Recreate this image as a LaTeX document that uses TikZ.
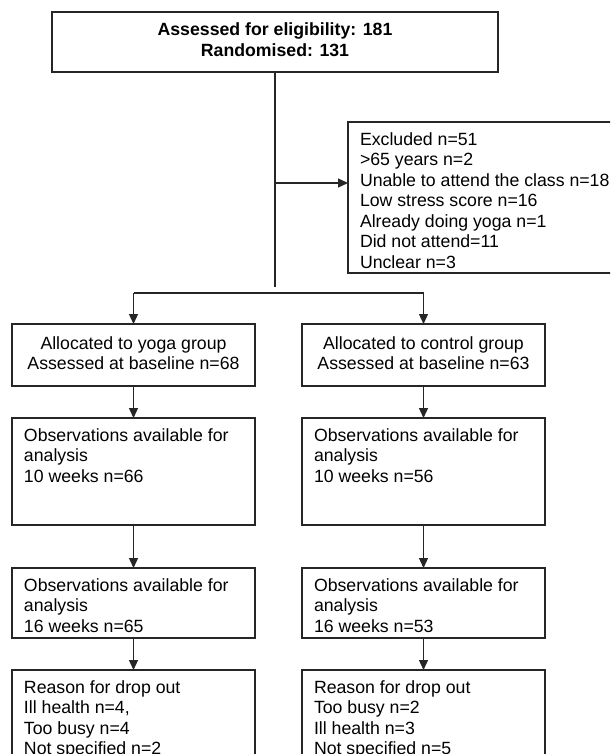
\documentclass[tikz,border=0pt]{standalone}
\usepackage{fontspec}
\setmainfont{Liberation Sans}
\usetikzlibrary{arrows.meta}
\newcommand{\lbx}[3]{\parbox[c][#2][t]{#1}{\raggedright\leftskip=12pt\relax\rule{0pt}{23pt}#3\par}}
\newcommand{\cbx}[4]{\parbox[c][#2][t]{#1}{\centering\rule{0pt}{#3}#4\par}}
\begin{document}
\begin{tikzpicture}[x=1pt,y=-1pt,
  box/.style={draw=black!85, line width=1.3pt, rectangle, inner sep=0pt, outer sep=0pt, anchor=north west},
  conn/.style={draw=black!85, line width=1.3pt},
  arr/.style={conn, -{Triangle[length=10pt,width=9pt]}},
  every node/.style={font=\fontsize{17.7}{20.5}\selectfont}]
\useasboundingbox (0,0) rectangle (610,754);
\clip (0,0) rectangle (610,754);
\fill[white] (0,0) rectangle (610,754);

% top box
\node[box] (top) at (52,12) {\cbx{446pt}{60pt}{24pt}{\bfseries Assessed for eligibility: 181\\Randomised: 131}};
% excluded box
\node[box] (excl) at (348,122) {\lbx{282pt}{151pt}{Excluded n=51\\>65 years n=2\\Unable to attend the class n=18\\Low stress score n=16\\Already doing yoga n=1\\Did not attend=11\\Unclear n=3}};

% yoga column
\node[box] (y1) at (12,324) {\cbx{243pt}{62pt}{25pt}{Allocated to yoga group\\Assessed at baseline n=68}};
\node[box] (y2) at (12,418) {\lbx{243pt}{107pt}{Observations available for\\analysis\\10 weeks n=66}};
\node[box] (y3) at (12,568) {\lbx{243pt}{70pt}{Observations available for\\analysis\\16 weeks n=65}};
\node[box] (y4) at (12,670) {\lbx{243pt}{110pt}{Reason for drop out\\Ill health n=4,\\Too busy n=4\\Not specified n=2}};

% control column
\node[box] (c1) at (302,324) {\cbx{243pt}{62pt}{25pt}{Allocated to control group\\Assessed at baseline n=63}};
\node[box] (c2) at (302,418) {\lbx{243pt}{107pt}{Observations available for\\analysis\\10 weeks n=56}};
\node[box] (c3) at (302,568) {\lbx{243pt}{70pt}{Observations available for\\analysis\\16 weeks n=53}};
\node[box] (c4) at (302,670) {\lbx{243pt}{110pt}{Reason for drop out\\Too busy n=2\\Ill health n=3\\Not specified n=5}};

% connectors
\coordinate (split) at (275,287);
\coordinate (ex) at (275,183);
\coordinate (bl) at (133.5,293);
\coordinate (br) at (423.5,293);
\draw[conn] (top.south) -- (split);
\draw[arr] (ex) -- (ex -| excl.west);
\draw[conn] (bl) -- (br);
\draw[arr] (bl) -- (y1.north);
\draw[arr] (br) -- (c1.north);
\draw[arr] (y1.south) -- (y2.north);
\draw[arr] (y2.south) -- (y3.north);
\draw[arr] (y3.south) -- (y4.north);
\draw[arr] (c1.south) -- (c2.north);
\draw[arr] (c2.south) -- (c3.north);
\draw[arr] (c3.south) -- (c4.north);
\end{tikzpicture}
\end{document}
